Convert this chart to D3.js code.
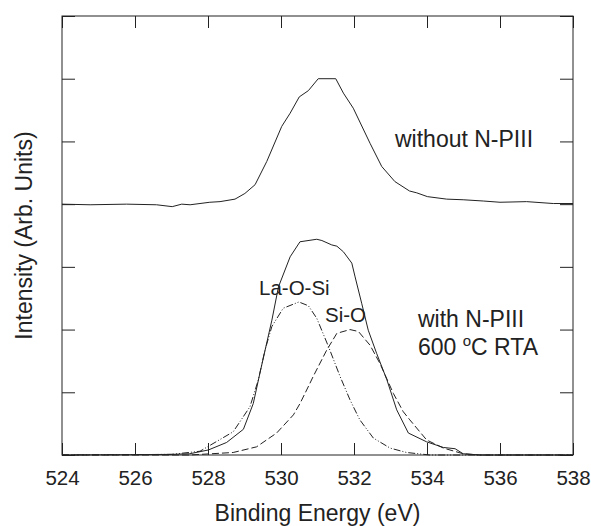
<!DOCTYPE html>
<html><head><meta charset="utf-8">
<script src="https://cdn.jsdelivr.net/npm/d3@7"></script>
<style>
html,body{margin:0;padding:0;background:#fff;}
text{font-family:"Liberation Sans",Arial,sans-serif;fill:#222;}
</style></head>
<body>
<svg id="chart" width="591" height="526"></svg>
<script>
// Binding energy (eV) and intensity (arb., offset units)
const withoutEnergy = [524.0,524.77,525.77,526.59,527.02,527.28,527.51,528.05,528.33,528.74,529.01,529.29,529.61,530.02,530.25,530.5,530.75,531.02,531.5,531.71,531.98,532.44,532.76,533.12,533.52,533.72,534.01,534.54,534.99,535.54,536.0,536.73,537.46,538.0];
const withoutIntensity = [4.0,3.99,4.0,3.99,3.96,4.0,3.99,4.03,4.04,4.08,4.17,4.31,4.68,5.24,5.45,5.71,5.81,6.0,6.0,5.77,5.53,4.97,4.6,4.36,4.21,4.18,4.12,4.08,4.07,4.05,4.03,4.04,4.01,4.01];

const withEnergy = [524.0,526.0,527.01,527.5,528.01,528.51,528.97,529.24,529.42,529.75,529.93,530.25,530.52,530.98,531.12,531.39,531.53,531.71,531.94,532.03,532.21,532.39,532.62,532.9,533.17,533.49,533.99,534.45,534.77,534.99,535.45,538.0];
const withIntensity = [0,0.005,0.01,0.02,0.08,0.2,0.41,0.82,1.3,2.15,2.68,3.16,3.4,3.44,3.42,3.35,3.33,3.24,3.06,2.84,2.42,1.99,1.62,1.2,0.72,0.35,0.21,0.12,0.1,0.02,0,0];

const laosiEnergy = [524.0,527.0,527.78,528.69,529.15,529.38,529.56,529.75,530.06,530.49,530.75,530.98,531.3,531.62,531.89,532.16,532.53,532.99,533.44,534.08,538.0];
const laosiIntensity = [0,0.01,0.06,0.37,0.77,1.2,1.67,2.05,2.34,2.44,2.38,2.18,1.73,1.25,0.88,0.56,0.27,0.11,0.04,0,0];

const sioEnergy = [524.0,527.5,528.69,529.33,529.88,530.34,530.52,530.79,530.88,531.25,531.53,531.89,532.12,532.44,532.71,533.08,533.35,533.53,533.99,534.45,534.99,535.45,538.0];
const sioIntensity = [0,0,0.04,0.13,0.35,0.64,0.82,1.14,1.25,1.67,1.94,2.0,1.97,1.75,1.46,0.98,0.69,0.56,0.24,0.11,0.02,0,0];

const xTicks = [524,526,528,530,532,534,536,538];
const yTicks = [0,1,2,3,4,5,6,7];
const xTitle = "Binding Energy (eV)";
const yTitle = "Intensity (Arb. Units)";

const svg = d3.select("#chart");
const L = 62, R = 573, T = 16, B = 455;
const x = d3.scaleLinear().domain([524,538]).range([L,R]);
const y = d3.scaleLinear().domain([0,7]).range([B,T]);
const ink = "#222";

// axes with inward ticks
const gB = svg.append("g").attr("transform",`translate(0,${B})`)
  .call(d3.axisBottom(x).tickValues(xTicks).tickSizeInner(-12).tickSizeOuter(0).tickPadding(15.5).tickFormat(d3.format("d")));
const gT = svg.append("g").attr("transform",`translate(0,${T})`)
  .call(d3.axisTop(x).tickValues(xTicks).tickSizeInner(-12).tickSizeOuter(0).tickFormat(""));
const gL = svg.append("g").attr("transform",`translate(${L},0)`)
  .call(d3.axisLeft(y).tickValues(yTicks).tickSizeInner(-13).tickSizeOuter(0).tickFormat(""));
const gR = svg.append("g").attr("transform",`translate(${R},0)`)
  .call(d3.axisRight(y).tickValues(yTicks).tickSizeInner(-13).tickSizeOuter(0).tickFormat(""));
[gB,gT,gL,gR].forEach(g=>{
  g.select(".domain").remove();
  g.selectAll(".tick line").attr("stroke",ink).attr("stroke-width",1);
});
gB.selectAll(".tick text").attr("font-size",20.5).attr("fill",ink)
  .style("font-family","'Liberation Sans',Arial,sans-serif");

// frame
svg.append("rect").attr("x",L).attr("y",T).attr("width",R-L).attr("height",B-T)
  .attr("fill","none").attr("stroke",ink).attr("stroke-width",1);

const line = d3.line().x(d=>x(d[0])).y(d=>y(d[1]));
function draw(E, I, dash){
  svg.append("path").datum(E.map((e,i)=>[e,I[i]]))
    .attr("d",line).attr("fill","none").attr("stroke",ink).attr("stroke-width",1)
    .attr("stroke-dasharray",dash);
}
draw(withoutEnergy, withoutIntensity, null);
draw(withEnergy, withIntensity, null);
draw(laosiEnergy, laosiIntensity, "7,2,1,2,1,2");
draw(sioEnergy, sioIntensity, "7,3");

// titles
svg.append("text").attr("x",(L+R)/2).attr("y",521).attr("text-anchor","middle")
  .attr("font-size",23).text(xTitle);
svg.append("text").attr("transform",`translate(32,${(T+B)/2}) rotate(-90)`).attr("text-anchor","middle")
  .attr("font-size",23).text(yTitle);

// annotations
svg.append("text").attr("x",395).attr("y",147).attr("font-size",23).text("without N-PIII");
svg.append("text").attr("x",418).attr("y",327).attr("font-size",23).text("with N-PIII");
const t2 = svg.append("text").attr("x",418).attr("y",355).attr("font-size",23);
t2.append("tspan").text("600 ");
t2.append("tspan").attr("font-size",15).attr("dy",-9).text("o");
t2.append("tspan").attr("dy",9).text("C RTA");
svg.append("text").attr("x",259).attr("y",295).attr("font-size",20.5).text("La-O-Si");
svg.append("text").attr("x",325).attr("y",321.5).attr("font-size",20.5).text("Si-O");
</script>
</body></html>
